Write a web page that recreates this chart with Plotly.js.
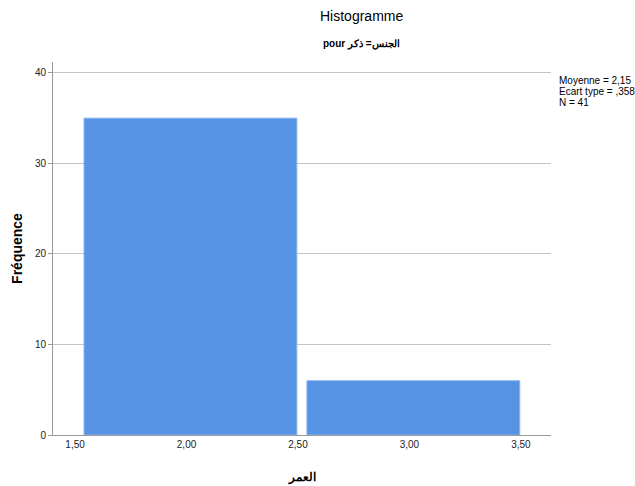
<!DOCTYPE html>
<html>
<head>
<meta charset="utf-8">
<script src="https://cdn.plot.ly/plotly-3.0.1.min.js"></script>
<style>html,body{margin:0;padding:0;background:#fff;}#chart{width:635px;height:486px;}</style>
</head>
<body>
<div id="chart"></div>
<script>
const binCenters = [2, 3];
const counts = [35, 6];
const xTickVals = [1.5, 2.0, 2.5, 3.0, 3.5];
const xTickText = ["1,50", "2,00", "2,50", "3,00", "3,50"];
const yTickVals = [0, 10, 20, 30, 40];
const statsLines = ["Moyenne = 2,15", "Ecart type = ,358", "N = 41"];

const font = "Liberation Sans, Arial, sans-serif";

const trace = {
  type: "bar",
  x: binCenters,
  y: counts,
  width: 0.955,
  offset: -0.46,
  marker: {color: "#5793e3", line: {color: "#8db5ec", width: 1}},
  hoverinfo: "skip"
};

const statsAnn = statsLines.map((t, i) => ({
  text: t, xref: "paper", yref: "paper", x: 1, xshift: 6, y: 1, yshift: -18 - 11 * i,
  xanchor: "left", yanchor: "middle", align: "left", showarrow: false,
  font: {family: font, size: 10, color: "#000"}
}));

const layout = {
  width: 635, height: 486,
  margin: {l: 53, r: 84, t: 62, b: 51},
  paper_bgcolor: "#fff", plot_bgcolor: "#fff",
  showlegend: false,
  font: {family: font, size: 10, color: "#222"},
  xaxis: {
    range: [1.401, 3.635],
    tickvals: xTickVals, ticktext: xTickText,
    showgrid: false, zeroline: false,
    showline: true, linecolor: "#9a9a9a", linewidth: 1,
    ticks: "", ticklen: 0,
    tickfont: {family: font, size: 10, color: "#222"},
    title: {text: "العمر", font: {family: font, size: 12, color: "#000", weight: "bold"}, standoff: 23}
  },
  yaxis: {
    range: [0, 41.2],
    tickvals: yTickVals,
    showgrid: true, gridcolor: "#c4c4c4", gridwidth: 1,
    zeroline: false,
    showline: true, linecolor: "#9a9a9a", linewidth: 1,
    ticks: "outside", ticklen: 4, tickcolor: "#9a9a9a",
    tickfont: {family: font, size: 10, color: "#222"},
    title: {text: "Fréquence", font: {family: font, size: 14, color: "#000", weight: "bold"}, standoff: 8}
  },
  annotations: [
    {text: "Histogramme", xref: "paper", yref: "paper", x: 0.62, y: 1, yshift: 46, xanchor: "center", yanchor: "middle", showarrow: false, font: {family: font, size: 14, color: "#000"}},
    {text: "<b>pour الجنس= ذكر</b>", xref: "paper", yref: "paper", x: 0.62, y: 1, yshift: 18, xanchor: "center", yanchor: "middle", showarrow: false, font: {family: font, size: 10, color: "#000"}}
  ].concat(statsAnn)
};

Plotly.newPlot("chart", [trace], layout, {displayModeBar: false, staticPlot: true});
</script>
</body>
</html>
